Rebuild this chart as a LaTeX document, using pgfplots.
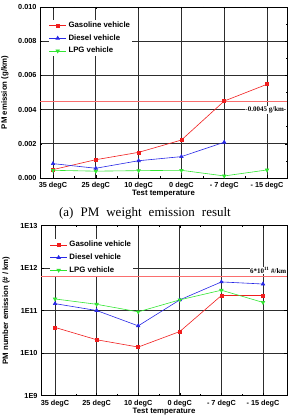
\documentclass[border=0pt]{standalone}
\usepackage{fontspec}
\setmainfont{Liberation Serif}
\setsansfont{Liberation Sans}
\usepackage{pgfplots}
\pgfplotsset{compat=1.18}
\definecolor{cred}{RGB}{240,30,30}
\definecolor{cblue}{RGB}{40,40,230}
\definecolor{cgreen}{RGB}{50,230,50}
\definecolor{lred}{RGB}{250,110,110}
\definecolor{gridc}{RGB}{45,45,45}
\newcommand{\tf}{\sffamily\bfseries\fontsize{7.3}{8}\selectfont}
\newcommand{\lf}{\sffamily\bfseries\fontsize{7.8}{9}\selectfont}
\pgfplotsset{
  common/.style={
    scale only axis,
    scaled y ticks=false,
    xtick={0,1,2,3,4,5},
    xticklabels={35 degC,25 degC,10 degC,0 degC,- 7 degC,- 15 degC},
    grid=major,
    major grid style={gridc, line width=0.7pt},
    axis line style={black, line width=0.7pt},
    tick style={black, line width=0.5pt},
    major tick length=2.5pt,
    minor tick length=1.5pt,
    minor x tick num=1,
    ticklabel style={font=\tf},
    label style={font=\lf},
    xlabel={Test temperature},
    xlabel style={at={(axis description cs:0.5,0)}, anchor=center, yshift=-16pt},
    xticklabel style={yshift=-1pt},
    legend cell align=left,
    legend style={draw=none, fill=white, font=\lf, row sep=1.5pt, anchor=north west, inner sep=0pt},
    legend image post style={sharp plot},
  }
}
\begin{document}
\begin{tikzpicture}
\useasboundingbox (0,0) rectangle (287pt,415pt);
% top axis
\begin{axis}[common,
  at={(40pt,237pt)}, anchor=south west,
  width=247pt, height=171pt,
  xmin=-0.304, xmax=5.467,
  ymin=0, ymax=0.010,
  ytick={0,0.002,0.004,0.006,0.008,0.010},
  yticklabels={0.000,0.002,0.004,0.006,0.008,0.010},
  minor y tick num=1,
  ylabel={PM emission (g/km)},
  ylabel style={at={(axis description cs:-0.142,0.5)}, rotate=0, anchor=center},
  legend style={at={(axis description cs:0.035,0.925)}},
]
\addplot[cred, line width=0.6pt, mark=square*, mark size=1.5pt] coordinates {
(0,0.00049) (1,0.00107) (2,0.0015) (3,0.00222) (4,0.0045) (5,0.00548)};
\addlegendentry{Gasoline vehicle}
\addplot[cblue, line width=0.6pt, mark=triangle*, mark size=2pt] coordinates {
(0,0.00084) (1,0.00057) (2,0.00101) (3,0.00125) (4,0.00209)};
\addlegendentry{Diesel vehicle}
\addplot[cgreen, line width=0.6pt, mark=triangle*, mark size=2pt, mark options={rotate=180}] coordinates {
(0,0.00045) (1,0.0004) (2,0.00043) (3,0.00045) (4,0.00012) (5,0.00047)};
\addlegendentry{LPG vehicle}
\addplot[lred, line width=0.6pt, forget plot] coordinates {(-0.304,0.0045) (5.467,0.0045)};
\node[fill=white, inner sep=0.5pt, anchor=east, font=\rmfamily\bfseries\fontsize{7}{8}\selectfont]
  at (axis cs:5.467,0.00398) {-0.0045 g/km-};
\end{axis}
% caption
\node[font=\rmfamily\fontsize{13}{15}\selectfont] at (145pt,202pt)
  {(a)\hspace{7pt}PM\hspace{7pt}weight\hspace{7pt}emission\hspace{7pt}result};
% bottom axis
\begin{axis}[common,
  at={(41pt,19.5pt)}, anchor=south west,
  width=246pt, height=170pt,
  xmin=-0.337, xmax=5.577,
  ymode=log,
  ymin=1e9, ymax=1e13,
  ytick={1e9,1e10,1e11,1e12,1e13},
  yticklabels={1E9,1E10,1E11,1E12,1E13},
  yminorticks=false,
  ylabel={PM number emission (\# / km)},
  ylabel style={at={(axis description cs:-0.142,0.5)}, rotate=0, anchor=center},
  legend style={at={(axis description cs:0.035,0.92)}},
]
\addplot[cred, line width=0.6pt, mark=square*, mark size=1.5pt] coordinates {
(0,4.0e10) (1,2.05e10) (2,1.38e10) (3,3.2e10) (4,2.25e11) (5,2.25e11)};
\addlegendentry{Gasoline vehicle}
\addplot[cblue, line width=0.6pt, mark=triangle*, mark size=2pt] coordinates {
(0,1.45e11) (1,1.0e11) (2,4.35e10) (3,1.78e11) (4,4.7e11) (5,4.2e11)};
\addlegendentry{Diesel vehicle}
\addplot[cgreen, line width=0.6pt, mark=triangle*, mark size=2pt, mark options={rotate=180}] coordinates {
(0,1.87e11) (1,1.4e11) (2,9.3e10) (3,1.78e11) (4,3.0e11) (5,1.55e11)};
\addlegendentry{LPG vehicle}
\addplot[lred, line width=0.6pt, forget plot] coordinates {(-0.337,6.3e11) (5.577,6.3e11)};
\node[fill=white, inner sep=0.5pt, anchor=south east, font=\rmfamily\bfseries\fontsize{7}{8}\selectfont]
  at (axis cs:5.577,7.0e11) {6*10\textsuperscript{11} \#/km};
\end{axis}
\end{tikzpicture}
\end{document}
